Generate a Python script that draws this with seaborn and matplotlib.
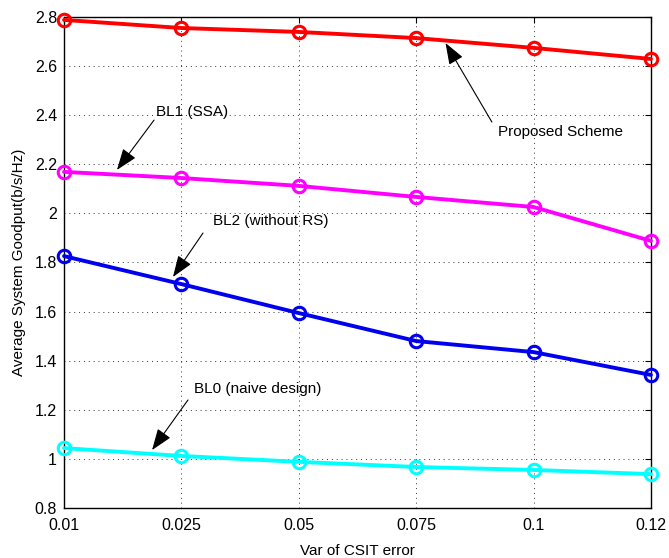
import numpy as np
import pandas as pd

import matplotlib
matplotlib.use('Agg')
import matplotlib.pyplot as plt
import seaborn as sns


# 데이터
x_labels = ['0.01', '0.025', '0.05', '0.075', '0.1', '0.12']
proposed = [2.788, 2.755, 2.739, 2.714, 2.674, 2.629]
bl1_ssa = [2.169, 2.144, 2.112, 2.067, 2.026, 1.888]
bl2_without_rs = [1.826, 1.712, 1.594, 1.480, 1.435, 1.342]
bl0_naive = [1.044, 1.012, 0.988, 0.967, 0.955, 0.938]

series = {'Proposed Scheme': (proposed, '#ff0000'),
          'BL1 (SSA)': (bl1_ssa, '#ff00ff'),
          'BL2 (without RS)': (bl2_without_rs, '#0000ee'),
          'BL0 (naive design)': (bl0_naive, '#00ffff')}

sns.set_theme(style='white')
plt.rcParams['font.family'] = ['Liberation Sans', 'DejaVu Sans']
plt.rcParams['text.color'] = 'black'
plt.rcParams['axes.labelcolor'] = 'black'
plt.rcParams['xtick.direction'] = 'in'
plt.rcParams['ytick.direction'] = 'in'

fig = plt.figure(figsize=(6.69, 5.58), dpi=100)
ax = fig.add_axes([0.0957, 0.0896, 0.8773, 0.88])

pos = np.arange(len(x_labels))
for name, (vals, color) in series.items():
    df = pd.DataFrame({'x': pos, 'y': vals})
    sns.lineplot(data=df, x='x', y='y', ax=ax, color=color, lw=2.8,
                 marker='o', markersize=9, markerfacecolor='none',
                 markeredgecolor=color, markeredgewidth=2.2, clip_on=False, zorder=3)

# 축 설정
ax.set_xlim(0, len(x_labels) - 1)
ax.set_ylim(0.8, 2.8)
ax.set_xticks(pos)
ax.set_xticklabels(x_labels)
ax.set_yticks(np.arange(0.8, 2.81, 0.2))
ax.set_yticklabels(['0.8', '1', '1.2', '1.4', '1.6', '1.8', '2', '2.2', '2.4', '2.6', '2.8'])
ax.tick_params(axis='x', pad=7)
ax.tick_params(axis='y', pad=5)
ax.tick_params(axis='both', labelsize=11.5, length=4, width=0.8, colors='black',
               top=True, right=True)
ax.grid(True, linestyle=(0, (1, 4)), color='black', lw=0.7, alpha=0.8)
for s in ax.spines.values():
    s.set_color('black')
    s.set_linewidth(1.0)

ax.set_xlabel('Var of CSIT error', fontsize=11, labelpad=8)
ax.set_ylabel('Average System Goodput(b/s/Hz)', fontsize=11, labelpad=6)

# 주석
arrow = dict(arrowstyle='-|>,head_length=0.6,head_width=0.22', color='black', lw=0.8,
             mutation_scale=22, shrinkA=0, shrinkB=0)
notes = [('Proposed Scheme', (3.25, 2.694), (3.645, 2.372), (4.23, 2.332)),
         ('BL1 (SSA)', (0.451, 2.177), (0.767, 2.380), (1.09, 2.413)),
         ('BL2 (without RS)', (0.928, 1.741), (1.184, 1.920), (1.76, 1.969)),
         ('BL0 (naive design)', (0.75, 1.036), (1.056, 1.240), (1.65, 1.285))]
for text, tip, tail, center in notes:
    ax.annotate('', xy=tip, xytext=tail, arrowprops=arrow)
    ax.text(center[0], center[1], text, fontsize=11, ha='center', va='center')

fig.savefig('out.png', dpi=100)
